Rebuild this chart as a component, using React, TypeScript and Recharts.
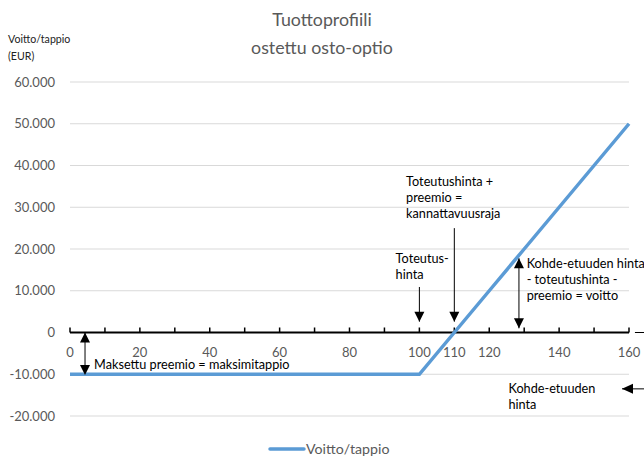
import React from 'react';
import { LineChart, Line, XAxis, YAxis, CartesianGrid, ReferenceLine, ReferenceDot } from 'recharts';

// ---- data ----
const prices = [0, 10, 20, 30, 40, 50, 60, 70, 80, 90, 100, 110, 120, 130, 140, 150, 160];
const profits = [-10000, -10000, -10000, -10000, -10000, -10000, -10000, -10000, -10000, -10000, -10000, 0, 10000, 20000, 30000, 40000, 50000];
const yTicks = [-20000, -10000, 0, 10000, 20000, 30000, 40000, 50000, 60000];
const xTickLabels = [0, 20, 40, 60, 80, 100, 110, 120, 140, 160];
const xMinorTicks = [0, 10, 20, 30, 40, 50, 60, 70, 80, 90, 100, 110, 120, 130, 140, 150, 160];
const titleLines = ['Tuottoprofiili', 'ostettu osto-optio'];
const yAxisTitle = ['Voitto/tappio', '(EUR)'];
const seriesName = 'Voitto/tappio';

const notes = [
  { x: 6.9, y: -8800, lines: ['Maksettu preemio = maksimitappio'] },
  { x: 93.2, y: 16600, lines: ['Toteutus-', 'hinta'] },
  { x: 96.2, y: 35000, lines: ['Toteutushinta +', 'preemio =', 'kannattavuusraja'] },
  { x: 130.7, y: 15400, lines: ['Kohde-etuuden hinta', '- toteutushinta -', 'preemio = voitto'] },
  { x: 125.5, y: -14500, lines: ['Kohde-etuuden', 'hinta'] },
];

type Arrow = { x1: number; y1: number; x2: number; y2: number; start?: string; end?: string };
const arrows: Arrow[] = [
  { x1: 4.3, y1: 0, x2: 4.3, y2: -10200, start: 'up', end: 'down' },
  { x1: 100, y1: 10900, x2: 100, y2: 2600, end: 'down' },
  { x1: 110, y1: 25000, x2: 110, y2: 2600, end: 'down' },
  { x1: 128.5, y1: 17800, x2: 128.5, y2: 1000, start: 'up', end: 'down' },
  { x1: 164.5, y1: -13500, x2: 158, y2: -13500, end: 'left' },
  { x1: 161.7, y1: 0, x2: 164.5, y2: 0 },
];

const chartData = prices.map((p, i) => ({ price: p, value: profits[i] }));

const FONT = 'Lato, "Open Sans", sans-serif';
const BLUE = '#5b9bd5';
const GRAY = '#595959';

const fmt = (v: number) => {
  const s = Math.abs(v).toString().replace(/\B(?=(\d{3})+(?!\d))/g, '.');
  return (v < 0 ? '-' : '') + s;
};

const headShape = (dir: string) => (props: any) => {
  const { cx, cy } = props;
  let pts = '';
  if (dir === 'down') pts = `${cx},${cy} ${cx - 5},${cy - 10} ${cx + 5},${cy - 10}`;
  else if (dir === 'up') pts = `${cx},${cy} ${cx - 5},${cy + 10} ${cx + 5},${cy + 10}`;
  else pts = `${cx},${cy} ${cx + 11},${cy - 5} ${cx + 11},${cy + 5}`;
  return <polygon points={pts} fill="#000" />;
};

const noteShape = (lines: string[]) => (props: any) => {
  const { cx, cy } = props;
  return (
    <text x={cx} y={cy} fontFamily={FONT} fontSize={12.7} fill="#000">
      {lines.map((l, i) => (
        <tspan key={i} x={cx} dy={i === 0 ? 0 : 16}>{l}</tspan>
      ))}
    </text>
  );
};

const xLabelShape = (label: number) => (props: any) => {
  const { cx, cy } = props;
  return (
    <text x={cx} y={cy + 24.5} textAnchor="middle" fontFamily={FONT} fontSize={13} fill={GRAY}>
      {label}
    </text>
  );
};

export default function App() {
  return (
    <div style={{ position: 'absolute', left: 0, top: 0, width: 644, height: 457, background: '#fff' }}>
      <LineChart width={644} height={457} data={chartData} margin={{ top: 82, right: 15, bottom: 41, left: 0 }}>
        <CartesianGrid horizontal vertical={false} stroke="#d9d9d9" strokeWidth={1} />
        <XAxis type="number" dataKey="price" domain={[0, 160]} hide />
        <YAxis
          type="number"
          domain={[-20000, 60000]}
          ticks={yTicks}
          width={70}
          axisLine={false}
          tickLine={false}
          tickSize={6}
          tickMargin={9}
          tickFormatter={fmt}
          tick={{ fill: GRAY, fontSize: 13, fontFamily: FONT }}
          interval={0}
        />
        <ReferenceLine y={0} stroke="#000" strokeWidth={2} />
        {xMinorTicks.map((v) => (
          <ReferenceLine key={'t' + v} segment={[{ x: v, y: 0 }, { x: v, y: 1200 }]} stroke="#000" strokeWidth={1.5} ifOverflow="visible" />
        ))}
        {xTickLabels.map((v) => (
          <ReferenceDot key={'l' + v} x={v} y={0} r={0} shape={xLabelShape(v)} ifOverflow="visible" />
        ))}
        {arrows.map((a, i) => (
          <ReferenceLine key={'a' + i} segment={[{ x: a.x1, y: a.y1 }, { x: a.x2, y: a.y2 }]} stroke="#000" strokeWidth={1} ifOverflow="visible" />
        ))}
        {arrows.filter((a) => a.start).map((a, i) => (
          <ReferenceDot key={'hs' + i} x={a.x1} y={a.y1} r={0} shape={headShape(a.start as string)} ifOverflow="visible" />
        ))}
        {arrows.filter((a) => a.end).map((a, i) => (
          <ReferenceDot key={'he' + i} x={a.x2} y={a.y2} r={0} shape={headShape(a.end as string)} ifOverflow="visible" />
        ))}
        {notes.map((n, i) => (
          <ReferenceDot key={'n' + i} x={n.x} y={n.y} r={0} shape={noteShape(n.lines)} ifOverflow="visible" />
        ))}
        <Line
          type="linear"
          dataKey="value"
          name={seriesName}
          stroke={BLUE}
          strokeWidth={3.5}
          dot={false}
          activeDot={false}
          isAnimationActive={false}
        />
      </LineChart>
      <svg width={644} height={457} style={{ position: 'absolute', left: 0, top: 0, pointerEvents: 'none' }}>
        {titleLines.map((t, i) => (
          <text key={t} x={322} y={26 + i * 28} textAnchor="middle" fontFamily={FONT} fontSize={17.8} fill={GRAY}>{t}</text>
        ))}
        {yAxisTitle.map((t, i) => (
          <text key={t} x={8} y={43 + i * 17} fontFamily={FONT} fontSize={10.6} fill="#222">{t}</text>
        ))}
        <line x1={270} y1={449} x2={304} y2={449} stroke={BLUE} strokeWidth={3.5} strokeLinecap="round" />
        <text x={306} y={453.5} fontFamily={FONT} fontSize={14.2} fill={GRAY}>{seriesName}</text>
      </svg>
    </div>
  );
}
